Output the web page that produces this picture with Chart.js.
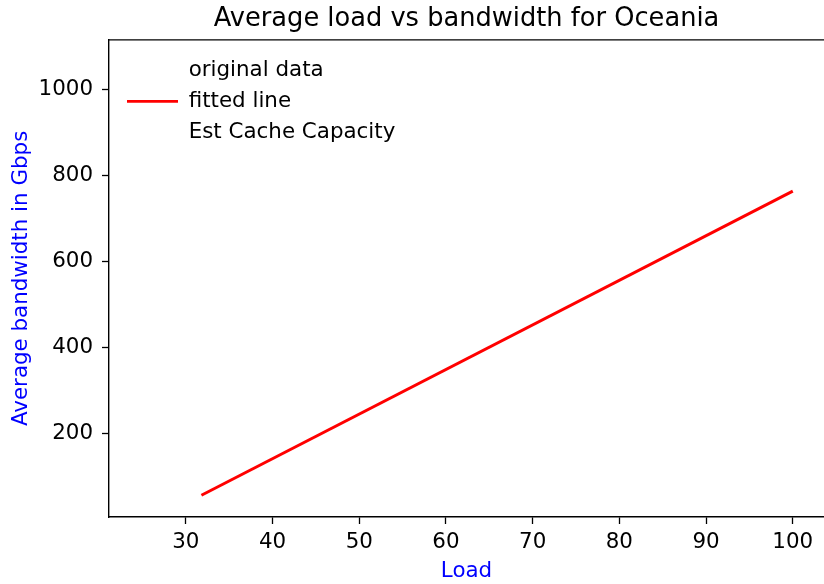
<!DOCTYPE html>
<html>
<head>
<meta charset="utf-8">
<script src="https://cdn.jsdelivr.net/npm/chart.js@4/dist/chart.umd.min.js"></script>
<style>
  html, body { margin: 0; padding: 0; background: #fff; overflow: hidden; }
</style>
</head>
<body>
<canvas id="load-bw-chart" width="824" height="584"></canvas>
<script>
// fitted line end points (load, Gbps)
const fitLoad = [31.8, 100];
const fitBandwidth = [56.5, 763];

// the other two legend entries show nothing on the plot
const originalData = [];
const cacheCapacity = [];

const xTicks = [30, 40, 50, 60, 70, 80, 90, 100];
const yTicks = [200, 400, 600, 800, 1000];

const FONT = 'DejaVu Sans';
const TICK_SIZE = 21.4;

// top spine (the right spine sits just past the picture edge) + title centred over the axes
const framePlugin = {
  id: 'frame',
  afterLayout(chart) {
    const area = chart.chartArea;
    chart.titleBlock.left = area.left;
    chart.titleBlock.right = area.right;
    chart.legend.left = area.left + 8.5;
    chart.legend.top = area.top + 10.5;
  },
  afterDraw(chart) {
    const {ctx, chartArea} = chart;
    ctx.save();
    ctx.strokeStyle = '#000';
    ctx.lineWidth = 1.4;
    ctx.beginPath();
    ctx.moveTo(chartArea.left, chartArea.top);
    ctx.lineTo(chart.width, chartArea.top);
    ctx.stroke();
    ctx.restore();
  }
};

const legendColors = ['rgba(0,0,0,0)', '#ff0000', 'rgba(0,0,0,0)'];

new Chart(document.getElementById('load-bw-chart'), {
  type: 'scatter',
  data: {
    datasets: [
      {
        label: 'original data',
        data: originalData,
        showLine: false,
        pointRadius: 0
      },
      {
        label: 'fitted line',
        data: fitLoad.map((v, i) => ({x: v, y: fitBandwidth[i]})),
        showLine: true,
        borderColor: '#ff0000',
        borderWidth: 3,
        pointRadius: 0
      },
      {
        label: 'Est Cache Capacity',
        data: cacheCapacity,
        showLine: false,
        pointRadius: 0
      }
    ]
  },
  options: {
    responsive: false,
    animation: false,
    layout: { padding: 0 },
    plugins: {
      title: {
        display: true,
        text: 'Average load vs bandwidth for Oceania',
        color: '#000',
        font: { family: FONT, size: 25.7, weight: 'normal' },
        padding: { top: 4, bottom: 5 }
      },
      legend: {
        position: 'chartArea',
        align: 'start',
        onClick: null,
        labels: {
          color: '#000',
          font: { family: FONT, size: TICK_SIZE },
          boxWidth: 51,
          boxHeight: 2.8,
          padding: 9.5,
          generateLabels: chart => chart.data.datasets.map((ds, i) => ({
            text: ds.label,
            fillStyle: legendColors[i],
            strokeStyle: legendColors[i],
            lineWidth: 0,
            datasetIndex: i
          }))
        }
      },
      tooltip: { enabled: false }
    },
    scales: {
      x: {
        type: 'linear',
        min: 21.14,
        max: 103.6,
        afterBuildTicks: axis => { axis.ticks = xTicks.map(v => ({value: v})); },
        afterFit: axis => { axis.height = 67; },
        border: { display: true, color: '#000', width: 1.4 },
        grid: { display: true, drawOnChartArea: false, drawTicks: true, tickLength: 7, color: '#000', tickWidth: 1.3 },
        ticks: { color: '#000', font: { family: FONT, size: TICK_SIZE }, padding: 6, maxRotation: 0,
                 callback: v => String(v) },
        title: {
          display: true,
          text: 'Load',
          color: '#0000ff',
          font: { family: FONT, size: TICK_SIZE },
          padding: { top: 0, bottom: 0 }
        }
      },
      y: {
        type: 'linear',
        min: 6,
        max: 1114.7,
        afterBuildTicks: axis => { axis.ticks = yTicks.map(v => ({value: v})); },
        afterFit: axis => { axis.width = 109; },
        border: { display: true, color: '#000', width: 1.4 },
        grid: { display: true, drawOnChartArea: false, drawTicks: true, tickLength: 7, color: '#000', tickWidth: 1.3 },
        ticks: { color: '#000', font: { family: FONT, size: TICK_SIZE }, padding: 9,
                 callback: v => String(v) },
        title: {
          display: true,
          text: 'Average bandwidth in Gbps',
          color: '#0000ff',
          font: { family: FONT, size: TICK_SIZE },
          padding: { top: 9, bottom: 0 }
        }
      }
    }
  },
  plugins: [framePlugin]
});
</script>
</body>
</html>
